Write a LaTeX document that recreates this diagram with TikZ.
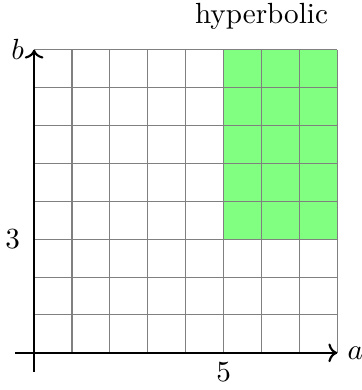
\documentclass[tikz,border=0pt,11pt]{standalone}
\usepackage{amsmath}
\usetikzlibrary{arrows.meta}

\begin{document}
\begin{tikzpicture}[scale=0.5]
\useasboundingbox (-0.9,-0.98) rectangle (8.63,9.31);

% hyperbolic region
\fill[green!50] (5,3) rectangle (8,8);

% grid
\foreach \x in {1,2,...,8}
{
    \draw[gray] (\x,0) -- (\x,8);
}
\foreach \y in {1,2,...,8}
{
    \draw[gray] (0,\y) -- (8,\y);
}

% axes
\coordinate (aleft) at (-0.5,0);
\coordinate (aright) at (8,0);
\coordinate (bbottom) at (0,-0.5);
\coordinate (btop) at (0,8);
\draw[thick,->] (aleft) -- (aright);
\draw[thick,->] (bbottom) -- (btop);
\node[right] (alabel) at (aright) {$a$};
\node[left] (blabel) at (btop) {$b$};

% tick labels
\node[below] (five) at (5,0) {$5$};
\node[left] (three) at (-0.1,3) {$3$};

\node (title) at (6,8.88) {hyperbolic};

\end{tikzpicture}
\end{document}
